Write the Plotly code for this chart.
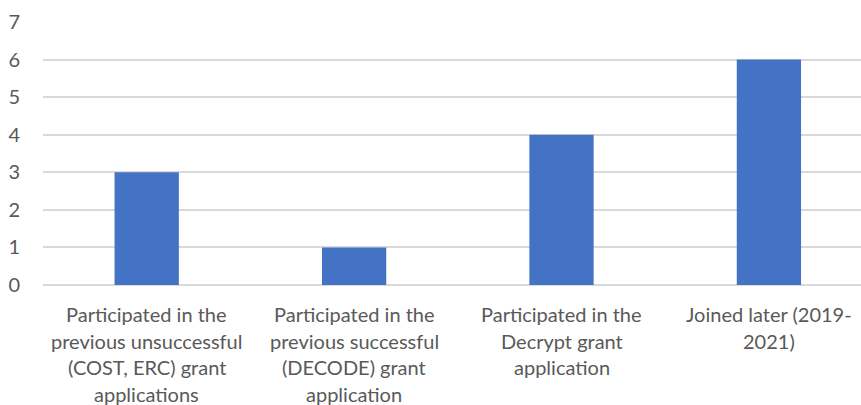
import plotly.graph_objects as go

# Team members by how they joined the project
categories = [
    "Participated in the<br>previous unsuccessful<br>(COST, ERC) grant<br>applications",
    "Participated in the<br>previous successful<br>(DECODE) grant<br>application",
    "Participated in the<br>Decrypt grant<br>application",
    "Joined later (2019-<br>2021)",
]
counts = [3, 1, 4, 6]
y_ticks = [0, 1, 2, 3, 4, 5, 6, 7]

BAR_COLOR = "#4472C4"
TEXT_COLOR = "#595959"
GRID_COLOR = "#d9d9d9"
FONT = "Lato"
LINE_STEP = 26.5

xs = list(range(len(categories)))

fig = go.Figure(
    go.Bar(
        x=xs,
        y=counts,
        marker=dict(color=BAR_COLOR, line=dict(width=0)),
        width=0.31,
        hoverinfo="skip",
    )
)

# Multi-line category labels, one annotation per text line for Excel-like spacing
annotations = []
for i, label in enumerate(categories):
    for k, line in enumerate(label.split("<br>")):
        annotations.append(
            dict(
                x=i, y=0, xref="x", yref="y",
                text=line, showarrow=False,
                xanchor="center", yanchor="top",
                yshift=-(15 + k * LINE_STEP),
                font=dict(family=FONT, size=20, color=TEXT_COLOR),
            )
        )

fig.update_layout(
    width=861,
    height=405,
    margin=dict(l=43, r=0, t=22, b=120),
    paper_bgcolor="white",
    plot_bgcolor="white",
    showlegend=False,
    annotations=annotations,
    xaxis=dict(
        range=[-0.5, 3.444],
        showticklabels=False,
        showgrid=False,
        zeroline=False,
        showline=False,
        fixedrange=True,
    ),
    yaxis=dict(
        range=[0, 7.0],
        tickvals=y_ticks,
        ticktext=[str(v) for v in y_ticks],
        showgrid=True,
        gridcolor=GRID_COLOR,
        gridwidth=1.5,
        zeroline=True,
        zerolinecolor=GRID_COLOR,
        zerolinewidth=1.5,
        showline=False,
        ticklabelstandoff=22,
        tickfont=dict(family=FONT, size=20, color=TEXT_COLOR),
        fixedrange=True,
    ),
)

fig.write_html("out.html")
